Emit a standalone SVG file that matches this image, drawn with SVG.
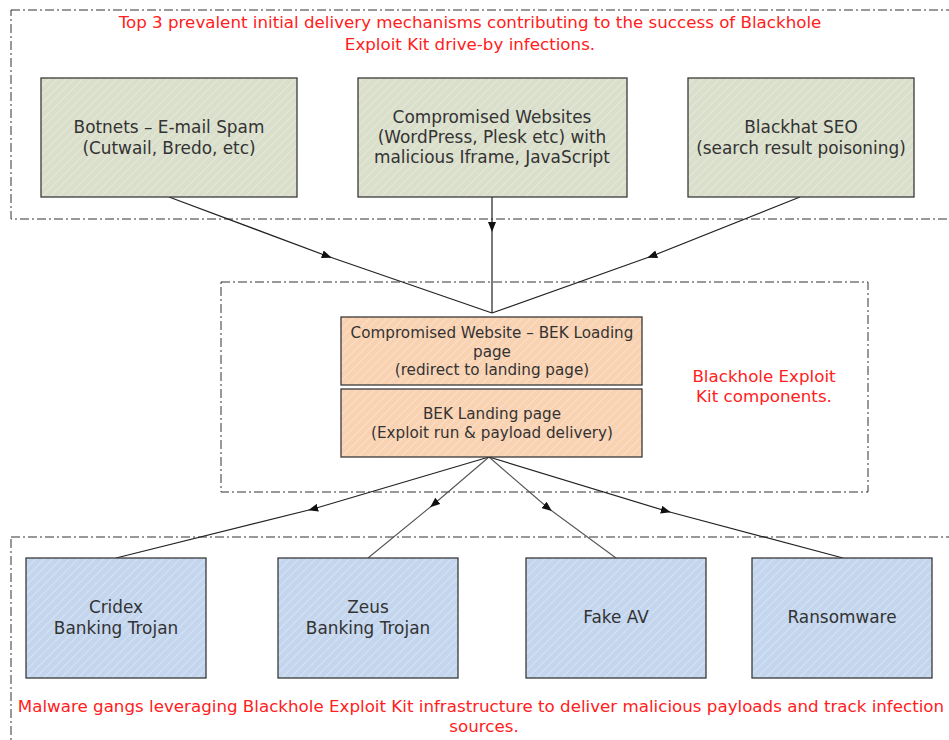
<svg xmlns="http://www.w3.org/2000/svg" width="949" height="740" viewBox="0 0 949 740">
<style>
.frame{fill:none;stroke:#333;stroke-width:1;stroke-dasharray:9 3 2 3}
.box{stroke:#3a3a3a;stroke-width:1.3}
.t{font-family:"DejaVu Sans",Verdana,sans-serif;font-size:16.9px;fill:#333;text-anchor:middle}
.s{font-family:"DejaVu Sans",Verdana,sans-serif;font-size:15.2px;fill:#333;text-anchor:middle}
.r{font-family:"DejaVu Sans",Verdana,sans-serif;font-size:16.7px;fill:#ff2020;text-anchor:middle}
.c{fill:none;stroke:#222;stroke-width:1.2;marker-mid:url(#arr)}
.c2{fill:none;stroke:#555;stroke-width:1.1;marker-mid:url(#arr)}
</style>
<defs>
<pattern id="hg" width="6" height="6" patternUnits="userSpaceOnUse" patternTransform="rotate(45)">
<rect width="6" height="6" fill="#dadfcb"/><line x1="0" y1="0" x2="0" y2="6" stroke="#eceee3" stroke-width="1.3"/>
</pattern>
<pattern id="ho" width="6" height="6" patternUnits="userSpaceOnUse" patternTransform="rotate(45)">
<rect width="6" height="6" fill="#f9d2b2"/><line x1="0" y1="0" x2="0" y2="6" stroke="#fde7d6" stroke-width="1.3"/>
</pattern>
<pattern id="hb" width="6" height="6" patternUnits="userSpaceOnUse" patternTransform="rotate(45)">
<rect width="6" height="6" fill="#c3d6ee"/><line x1="0" y1="0" x2="0" y2="6" stroke="#e2ebf7" stroke-width="1.3"/>
</pattern>
<marker id="arr" viewBox="0 0 10 8" refX="5" refY="4" markerWidth="10" markerHeight="8" markerUnits="userSpaceOnUse" orient="auto">
<path d="M0,0 L10,4 L0,8 Z" fill="#111"/>
</marker>
</defs>

<g id="frames">
<rect class="frame" x="11" y="10" width="950" height="209"/>
<rect class="frame" x="221" y="282" width="647" height="210"/>
<rect class="frame" x="11" y="537" width="950" height="220"/>
</g>

<g id="labels">
<text class="r" x="470" y="28">Top 3 prevalent initial delivery mechanisms contributing to the success of Blackhole</text>
<text class="r" x="470" y="50">Exploit Kit drive-by infections.</text>
<text class="r" x="764" y="382">Blackhole Exploit</text>
<text class="r" x="764" y="402">Kit components.</text>
<text class="r" x="481" y="712">Malware gangs leveraging Blackhole Exploit Kit infrastructure to deliver malicious payloads and track infection</text>
<text class="r" x="484" y="732">sources.</text>
</g>

<g id="connectors">
<path class="c" d="M169,197 L327,256 L492,313"/>
<path class="c" d="M492,197 L492,227 L492,313"/>
<path class="c" d="M800,197 L652,256 L492,313"/>
<path class="c" d="M489,457 L313,509 L116,558"/>
<path class="c2" d="M489,457 L434,504 L368,558"/>
<path class="c2" d="M489,457 L548,508 L616,558"/>
<path class="c" d="M489,457 L666,511 L843,558"/>
</g>

<g id="botnets">
<rect class="box" x="41" y="78" width="256" height="119" fill="url(#hg)"/>
<text class="t" x="169" y="133">Botnets – E-mail Spam</text>
<text class="t" x="169" y="154">(Cutwail, Bredo, etc)</text>
</g>
<g id="compromised-websites">
<rect class="box" x="358" y="78" width="269" height="119" fill="url(#hg)"/>
<text class="t" x="492" y="123">Compromised Websites</text>
<text class="t" x="492" y="143">(WordPress, Plesk etc) with</text>
<text class="t" x="492" y="163">malicious Iframe, JavaScript</text>
</g>
<g id="blackhat-seo">
<rect class="box" x="688" y="78" width="226" height="119" fill="url(#hg)"/>
<text class="t" x="801" y="133">Blackhat SEO</text>
<text class="t" x="801" y="154">(search result poisoning)</text>
</g>

<g id="bek-loading">
<rect class="box" x="341" y="317" width="301" height="68" fill="url(#ho)"/>
<text class="s" x="492" y="337.5">Compromised Website – BEK Loading</text>
<text class="s" x="492" y="356.5">page</text>
<text class="s" x="492" y="374.5">(redirect to landing page)</text>
</g>
<g id="bek-landing">
<rect class="box" x="341" y="389" width="301" height="68" fill="url(#ho)"/>
<text class="s" x="492" y="418.5">BEK Landing page</text>
<text class="s" x="492" y="437.5">(Exploit run &amp; payload delivery)</text>
</g>

<g id="cridex">
<rect class="box" x="26" y="558" width="180" height="120" fill="url(#hb)"/>
<text class="t" x="116" y="613">Cridex</text>
<text class="t" x="116" y="634">Banking Trojan</text>
</g>
<g id="zeus">
<rect class="box" x="278" y="558" width="180" height="120" fill="url(#hb)"/>
<text class="t" x="368" y="613">Zeus</text>
<text class="t" x="368" y="634">Banking Trojan</text>
</g>
<g id="fake-av">
<rect class="box" x="526" y="558" width="180" height="120" fill="url(#hb)"/>
<text class="t" x="616" y="623">Fake AV</text>
</g>
<g id="ransomware">
<rect class="box" x="752" y="558" width="180" height="120" fill="url(#hb)"/>
<text class="t" x="842" y="623">Ransomware</text>
</g>
</svg>
